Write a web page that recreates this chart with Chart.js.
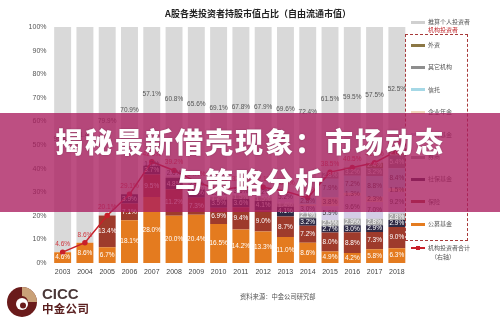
<!DOCTYPE html>
<html><head><meta charset="utf-8">
<script src="https://cdn.jsdelivr.net/npm/chart.js@4.4.1/dist/chart.umd.min.js"></script>
<style>
html,body{margin:0;padding:0;background:#fff;}
#wrap{position:relative;width:500px;height:326px;overflow:hidden;font-family:"Noto Sans CJK SC",sans-serif;}
#c{position:absolute;left:0;top:0;}
#title{position:absolute;left:158px;top:7px;width:200px;text-align:center;font-size:9px;font-weight:700;color:#222;white-space:nowrap;line-height:14px;}
.lg{position:absolute;font-size:6px;color:#555;white-space:nowrap;line-height:8px;}
.sw{position:absolute;width:14px;height:3px;}
#box{position:absolute;left:405px;top:34px;width:61px;height:205px;border:1.5px dashed #A83A3A;}
#source{position:absolute;left:240px;top:292px;font-size:6.3px;color:#555;white-space:nowrap;line-height:9px;}
#cicc{position:absolute;left:42px;top:285px;font:700 15px "Liberation Sans",Arial,sans-serif;color:#4a3838;line-height:17px;}
#zj{position:absolute;left:42px;top:301px;font-size:11.5px;font-weight:700;color:#5a1f1f;line-height:14px;letter-spacing:0.3px;}
#banner{position:absolute;left:0;top:113px;width:500px;height:99px;background:rgba(170,30,95,0.78);}
#banner div{position:absolute;left:0;width:500px;text-align:center;color:#fff;font-size:28px;font-weight:900;letter-spacing:2px;line-height:40px;text-shadow:0 0 2px rgba(0,0,0,0.25);white-space:nowrap;}
</style></head><body>
<div id="wrap">
<canvas id="c" width="500" height="326" style="width:500px;height:326px"></canvas>
<div id="title">A股各类投资者持股市值占比（自由流通市值）</div>
<div id="box"></div>
<div id="legend"></div>
<div id="source">资料来源：中金公司研究部</div>
<svg width="32" height="32" style="position:absolute;left:6px;top:286px" viewBox="0 0 32 32">
 <circle cx="16" cy="16" r="15" fill="#6A1B1B"/>
 <path d="M16 1 A15 15 0 0 1 31 16 L22 16 A6 6 0 0 0 16 10 Z" fill="#C9A178"/>
 <circle cx="16" cy="18" r="6" fill="#fff"/>
 <circle cx="17" cy="19.5" r="3" fill="#6A1B1B"/>
</svg>
<div id="cicc">CICC</div>
<div id="zj">中金公司</div>
<div id="banner"><div style="top:8px">揭秘最新借壳现象：市场动态</div><div style="top:48px">与策略分析</div></div>
</div>
<script>
const years=['2003','2004','2005','2006','2007','2008','2009','2010','2011','2012','2013','2014','2015','2016','2017','2018'];
const publicFund=[4.6,8.6,6.7,18.1,28.0,20.0,20.4,16.5,14.2,13.3,11.0,8.6,4.9,4.2,5.8,6.3];
const insurance=[0,0,13.4,7.1,9.5,11.2,7.3,6.9,9.4,9.0,8.7,7.2,8.0,8.8,7.3,9.0];
const socialFund=[0,0,0,3.9,3.7,4.8,3.6,3.5,3.6,4.1,4.1,3.2,2.7,3.0,2.9,2.9];
const brokers=[0,0,0,0,0,0.6,1.0,1.2,1.5,1.5,1.4,2.1,2.5,2.9,2.8,2.8];
const privateFund=[0,0,0,0,1.7,2.6,2.1,2.8,3.5,4.2,5.2,3.0,5.9,9.6,7.0,9.2];
const pension=[0,0,0,0,0,0,0,0,0,0,0,0.7,3.8,1.3,2.3,1.5];
const trust=[0,0,0,0,0,0,0,0,0,0,0,2.8,7.9,7.2,8.8,8.4];
const otherInst=[0,0,0,0,0,0,0,0,0,0,0,0,2.8,3.2,3.2,5.4];
const foreign=[0,0,0,0,0,0,0,0,0,0,0,0,0,0.3,2.4,2.0];
const individual=[95.4,91.4,79.9,70.9,57.1,60.8,65.6,69.1,67.8,67.9,69.6,72.4,61.5,59.5,57.5,52.5];
const instTotal=[4.6,8.6,20.1,29.1,42.9,39.2,34.4,30.9,32.2,32.1,30.4,27.6,38.5,40.5,42.5,47.5];

const series=[
 {name:'公募基金',data:publicFund,color:'#E47B1F',txt:'#fff'},
 {name:'保险',data:insurance,color:'#9E3B2C',txt:'#fff'},
 {name:'社保基金',data:socialFund,color:'#2E2A45',txt:'#fff'},
 {name:'券商',data:brokers,color:'#A6A6A6',txt:'#fff'},
 {name:'私募基金',data:privateFund,color:'#D4CDE6',txt:'#333'},
 {name:'企业年金',data:pension,color:'#F2D8BC',txt:'#333'},
 {name:'信托',data:trust,color:'#A5D8E6',txt:'#333'},
 {name:'其它机构',data:otherInst,color:'#8E8E8E',txt:'#fff'},
 {name:'外资',data:foreign,color:'#8B7745',txt:'#fff'}
];
const fmt=v=>v.toFixed(1)+'%';
const datasets=series.map(s=>({label:s.name,data:s.data,backgroundColor:s.color,labelColor:s.txt,stack:'s',barPercentage:0.76,categoryPercentage:1,order:1}));
datasets.push({label:'推算个人投资者',data:individual,backgroundColor:'#D9D9D9',labelColor:'#555',stack:'s',barPercentage:0.76,categoryPercentage:1,order:1});
datasets.push({type:'line',label:'机构投资者合计（右轴）',data:instTotal,yAxisID:'y1',borderColor:'#C8202A',backgroundColor:'#C8202A',borderWidth:1.5,pointRadius:2,pointBackgroundColor:'#C8202A',labelColor:'#D0383F',order:-1,tension:0});

const labelPlugin={id:'segLabels',afterDatasetsDraw(chart){
 const ctx=chart.ctx;ctx.save();
 ctx.font='6.5px "Liberation Sans", Arial, sans-serif';ctx.textAlign='center';ctx.textBaseline='middle';
 chart.data.datasets.forEach((ds,i)=>{
  const meta=chart.getDatasetMeta(i);
  meta.data.forEach((el,j)=>{
   const v=ds.data[j];
   ctx.fillStyle=ds.labelColor;
   if(ds.type==='line'){ctx.fillText(fmt(v),el.x,el.y-8);return;}
   if(!v||v<1)return;
   ctx.fillText(fmt(v),el.x,(el.y+el.base)/2);
  });
 });
 ctx.restore();
}};

new Chart(document.getElementById('c'),{
 type:'bar',
 data:{labels:years,datasets:datasets},
 options:{
  responsive:false,animation:false,
  layout:{padding:{left:0,right:92,top:27,bottom:43}},
  scales:{
   x:{stacked:true,grid:{display:false,drawTicks:false},border:{display:false},
      ticks:{font:{size:7,family:'"Liberation Sans", Arial, sans-serif'},color:'#444',padding:5},
      afterFit(s){s.height=20;}},
   y:{stacked:true,min:0,max:100,grid:{display:false,drawTicks:false},border:{display:false},
      ticks:{stepSize:10,callback:v=>v+'%',font:{size:7,family:'"Liberation Sans", Arial, sans-serif'},color:'#555',padding:5},
      afterFit(s){s.width=51.5;}},
   y1:{display:false,min:0,max:100}
  },
  plugins:{legend:{display:false},tooltip:{enabled:false},title:{display:false}}
 },
 plugins:[labelPlugin]
});

// legend
const lg=document.getElementById('legend');
function addItem(y,color,text,isLine){
 const sw=document.createElement('div');sw.className='sw';
 sw.style.left='411px';sw.style.top=(y-1.5)+'px';sw.style.background=color;
 if(isLine){sw.style.height='1.5px';sw.style.top=(y-0.75)+'px';}
 lg.appendChild(sw);
 if(isLine){const d=document.createElement('div');d.className='sw';d.style.width='4px';d.style.height='4px';d.style.left='416px';d.style.top=(y-2)+'px';d.style.background=color;lg.appendChild(d);}
 const t=document.createElement('div');t.className='lg';t.textContent=text;t.style.left='428px';t.style.top=(y-4)+'px';lg.appendChild(t);
}
addItem(22,'#D0D0D0','推算个人投资者');
const hdr=document.createElement('div');hdr.className='lg';hdr.textContent='机构投资者';hdr.style.left='428px';hdr.style.top='26px';hdr.style.color='#C0282D';lg.appendChild(hdr);
const rev=series.slice().reverse();
rev.forEach((s,k)=>addItem(45+k*22.4,s.color,s.name));
addItem(248,'#C8202A','机构投资者合计',true);
const r=document.createElement('div');r.className='lg';r.textContent='（右轴）';r.style.left='431px';r.style.top='253px';lg.appendChild(r);
</script>
</body></html>
